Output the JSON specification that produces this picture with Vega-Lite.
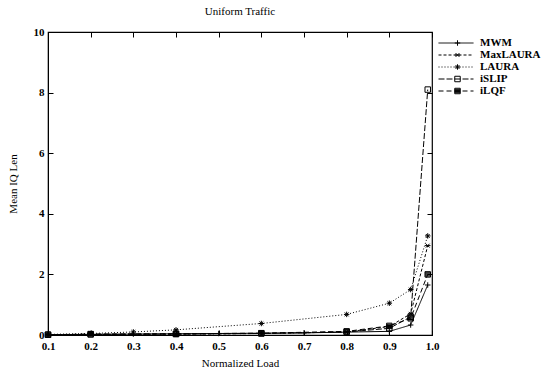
{
  "$schema": "https://vega.github.io/schema/vega-lite/v6.json",
  "width": 384,
  "height": 303,
  "autosize": {"type": "none"},
  "padding": {"left": 48, "top": 32, "right": 112, "bottom": 36},
  "background": "white",
  "title": {"text": "Uniform Traffic", "font": "Liberation Serif", "fontSize": 11, "fontWeight": "normal", "color": "black", "offset": 9, "anchor": "middle"},
  "config": {
    "view": {"stroke": "black", "strokeWidth": 1.2},
    "axis": {"labelFont": "Liberation Serif", "titleFont": "Liberation Serif", "labelFontSize": 11, "titleFontSize": 11, "labelFontWeight": "bold", "titleFontWeight": "normal", "labelColor": "black", "titleColor": "black", "domainColor": "black", "tickColor": "black", "grid": false, "labelFlush": false}
  },
  "resolve": {"axis": {"x": "independent", "y": "independent"}},
  "data": {"values": [
    {"load": 0.1, "len": 0.01, "series": "MWM"},
    {"load": 0.3, "len": 0.03, "series": "MWM"},
    {"load": 0.5, "len": 0.05, "series": "MWM"},
    {"load": 0.7, "len": 0.07, "series": "MWM"},
    {"load": 0.9, "len": 0.12, "series": "MWM"},
    {"load": 0.95, "len": 0.33, "series": "MWM"},
    {"load": 0.99, "len": 1.65, "series": "MWM"},
    {"load": 0.1, "len": 0.01, "series": "MaxLAURA"},
    {"load": 0.2, "len": 0.02, "series": "MaxLAURA"},
    {"load": 0.4, "len": 0.03, "series": "MaxLAURA"},
    {"load": 0.6, "len": 0.05, "series": "MaxLAURA"},
    {"load": 0.8, "len": 0.1, "series": "MaxLAURA"},
    {"load": 0.9, "len": 0.28, "series": "MaxLAURA"},
    {"load": 0.95, "len": 0.7, "series": "MaxLAURA"},
    {"load": 0.99, "len": 2.95, "series": "MaxLAURA"},
    {"load": 0.1, "len": 0.02, "series": "LAURA"},
    {"load": 0.2, "len": 0.05, "series": "LAURA"},
    {"load": 0.3, "len": 0.1, "series": "LAURA"},
    {"load": 0.4, "len": 0.17, "series": "LAURA"},
    {"load": 0.6, "len": 0.38, "series": "LAURA"},
    {"load": 0.8, "len": 0.68, "series": "LAURA"},
    {"load": 0.9, "len": 1.05, "series": "LAURA"},
    {"load": 0.95, "len": 1.5, "series": "LAURA"},
    {"load": 0.99, "len": 3.27, "series": "LAURA"},
    {"load": 0.1, "len": 0.01, "series": "iSLIP"},
    {"load": 0.2, "len": 0.02, "series": "iSLIP"},
    {"load": 0.4, "len": 0.03, "series": "iSLIP"},
    {"load": 0.6, "len": 0.05, "series": "iSLIP"},
    {"load": 0.8, "len": 0.1, "series": "iSLIP"},
    {"load": 0.9, "len": 0.22, "series": "iSLIP"},
    {"load": 0.95, "len": 0.6, "series": "iSLIP"},
    {"load": 0.99, "len": 8.1, "series": "iSLIP"},
    {"load": 0.1, "len": 0.01, "series": "iLQF"},
    {"load": 0.2, "len": 0.03, "series": "iLQF"},
    {"load": 0.4, "len": 0.04, "series": "iLQF"},
    {"load": 0.6, "len": 0.06, "series": "iLQF"},
    {"load": 0.8, "len": 0.12, "series": "iLQF"},
    {"load": 0.9, "len": 0.3, "series": "iLQF"},
    {"load": 0.95, "len": 0.55, "series": "iLQF"},
    {"load": 0.99, "len": 2.0, "series": "iLQF"}
  ]},
  "layer": [
    {
      "mark": {"type": "line", "color": "black", "strokeWidth": 1},
      "encoding": {
        "x": {"field": "load", "type": "quantitative", "scale": {"domain": [0.1, 1.0], "nice": false, "zero": false},
          "axis": {"orient": "bottom", "title": "Normalized Load", "values": [0.1,0.2,0.3,0.4,0.5,0.6,0.7,0.8,0.9,1.0], "format": ".1f", "tickSize": -5, "labelPadding": 10, "titlePadding": 6}},
        "y": {"field": "len", "type": "quantitative", "scale": {"domain": [0, 10], "nice": false},
          "axis": {"orient": "left", "title": "Mean IQ Len", "values": [0,2,4,6,8,10], "tickSize": -5, "labelPadding": 9, "titlePadding": 15}},
        "detail": {"field": "series"},
        "strokeDash": {"field": "series", "type": "nominal", "sort": ["MWM","MaxLAURA","LAURA","iSLIP","iLQF"],
          "scale": {"range": [[1,0],[3,2],[1,2],[6,2],[5,3]]},
          "legend": {"title": null, "orient": "none", "legendX": 390, "legendY": 5, "padding": 0, "clipHeight": 12, "symbolType": "stroke", "symbolSize": 1225, "symbolStrokeWidth": 1, "symbolStrokeColor": "black", "labelFont": "Liberation Serif", "labelFontSize": 11, "labelFontWeight": "bold", "labelColor": "black", "rowPadding": 0, "symbolOffset": 0, "labelOffset": 6}}
      }
    },
    {
      "mark": {"type": "point", "color": "black", "strokeWidth": 1, "size": 30, "opacity": 1, "filled": false},
      "encoding": {
        "x": {"field": "load", "type": "quantitative", "axis": null},
        "y": {"field": "len", "type": "quantitative", "axis": null},
        "shape": {"field": "series", "type": "nominal",
          "scale": {"domain": ["MWM","MaxLAURA","LAURA","iSLIP","iLQF"],
            "range": ["M-1,0H1M0,-1V1", "M-1,0H1M-0.7,-0.7L0.7,0.7M-0.7,0.7L0.7,-0.7", "M-1,0H1M0,-1V1M-0.7,-0.7L0.7,0.7M-0.7,0.7L0.7,-0.7", "square", "M-1,-1H1V1H-1ZM-1,-0.6H1M-1,-0.2H1M-1,0.2H1M-1,0.6H1"]},
          "legend": {"title": null, "orient": "none", "legendX": 404, "legendY": 5, "padding": 0, "clipHeight": 12, "labelExpr": "''", "labelFontSize": 11, "symbolSize": 30, "symbolStrokeColor": "black", "symbolStrokeWidth": 1, "rowPadding": 0}}
      }
    },
    {
      "mark": {"type": "point", "opacity": 0},
      "encoding": {
        "x": {"field": "load", "type": "quantitative", "axis": {"orient": "top", "labels": false, "title": null, "domain": false, "values": [0.1,0.2,0.3,0.4,0.5,0.6,0.7,0.8,0.9,1.0], "tickSize": -5}},
        "y": {"field": "len", "type": "quantitative", "axis": {"orient": "right", "labels": false, "title": null, "domain": false, "values": [0,2,4,6,8,10], "tickSize": -5}}
      }
    }
  ]
}
